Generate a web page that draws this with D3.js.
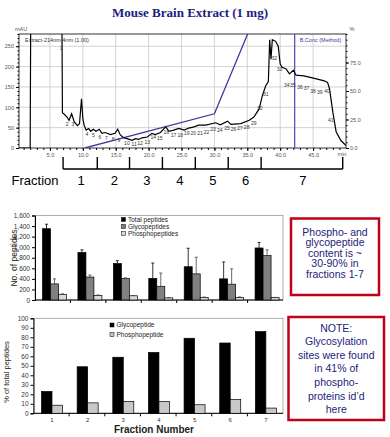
<!DOCTYPE html>
<html>
<head>
<meta charset="utf-8">
<script src="https://cdn.jsdelivr.net/npm/d3@7"></script>
<style>
body{margin:0;background:#fff}
svg{display:block;font-family:Arial,"Liberation Sans",sans-serif}
</style>
</head>
<body>
<div id="fig"></div>
<script>
// chromatogram trace: time (min) and absorbance (mAU)
var traceT = [0.3,2.0,2.1,6.8,6.9, 7.1,7.6,7.9,8.3,8.7, 9.2,9.5,9.8,10.0,10.2, 10.5,10.9,11.2,11.6,12.0,
  12.5,12.9,13.4,14.2,14.9, 15.3,15.7,16.2,16.7,17.5, 18.0,18.5,19.0,19.8,20.5, 21.0,21.8,22.6,23.1,23.8,
  24.6,25.4,26.1,26.9,27.6, 28.7,30.2,30.9,32.0,32.5, 34.0,35.3,36.0,36.8,37.3, 37.8,38.2,38.4,38.6,38.8,
  39.3,39.7,40.0,40.3,40.9, 41.4,42.0,42.4,43.6,45.2, 46.7,47.2,47.5,48.0,48.5, 49.2,50.0];
var traceA = [0,0,400,400,86, 84,76,68,84,64, 55,60,121,73,56, 44,48,41,46,41,
  46,36,38,33,36, 46,32,25,23,19, 23,21,25,27,36, 33,38,52,41,44,
  48,44,49,52,56, 56,62,57,66,58, 60,68,76,96,129, 153,163,266,218,266,
  262,250,206,198,194, 182,191,179,177,171, 165,161,145,88,40, 19,6];
// gradient program (%B)
var gradT = [10.3, 30, 35.05];
var gradB = [0, 30, 100];
var bConcT = 42.2;
// peak numbers 1..41
var peakT = [6.7,7.6,8.5,10.6,11.6,12.6,13.6,14.6,15.5,16.7,17.8,18.7,19.8,20.7,21.7,22.7,23.8,24.8,25.8,26.8,
  27.8,28.8,29.8,30.8,31.9,32.9,33.9,34.9,36.0,36.9,37.8,39.1,39.9,41.0,41.9,43.0,44.0,45.0,46.0,47.1,47.7];
var peakA = [246,59,59,34,32,28,24,21,20,12,10,13,15,28,24,40,32,32,38,38,
  36,40,46,43,50,47,48,51,62,98,132,222,194,155,155,149,147,141,138,141,69];
var fracEdges = [7, 12.2, 17.1, 22.1, 27.1, 32.1, 37.1, 49.5];

var fractions = ["1","2","3","4","5","6","7"];
var countSeries = ["Total peptides","Glycopeptides","Phosphopeptides"];
var totalVals = [1350, 900, 690, 410, 630, 400, 985];
var totalErr  = [85, 50, 55, 290, 350, 320, 105];
var glycoVals = [305, 435, 405, 260, 495, 300, 840];
var glycoErr  = [95, 38, 15, 250, 315, 290, 110];
var phosVals  = [108, 88, 80, 40, 50, 50, 45];
var phosErr   = [8, 8, 5, 6, 6, 8, 5];

var pctSeries = ["Glycopeptide","Phosphopeptide"];
var glycoPct = [23, 49, 59, 64, 79, 74, 86];
var phosPct  = [8.5, 11, 12.5, 12.5, 9, 14.5, 5.5];

var navy = "#23237a";
var svg = d3.select("#fig").append("svg").attr("width",390).attr("height",437);
svg.append("rect").attr("width",390).attr("height",437).attr("fill","#fff");

// ---------- chromatogram ----------
svg.append("text").attr("x",190).attr("y",17).attr("text-anchor","middle")
  .style("font-family","'Liberation Serif','Times New Roman',serif").style("font-weight","bold")
  .style("font-size","13px").attr("fill","#1c1c80").text("Mouse Brain Extract (1 mg)");

var xT = d3.scaleLinear().domain([0.3,50]).range([19,346]);
var yT = d3.scaleLinear().domain([0,280]).range([148,34]);
var yPct = d3.scaleLinear().domain([0,100]).range([148,34]);

var chromo = svg.append("g");
chromo.append("clipPath").attr("id","clipT").append("rect")
  .attr("x",19).attr("y",34).attr("width",327).attr("height",114);

chromo.selectAll(".vg").data(d3.range(5,50,5)).enter().append("line")
  .attr("x1",d=>xT(d)).attr("x2",d=>xT(d)).attr("y1",34).attr("y2",148)
  .attr("stroke","#c8c8c8").attr("stroke-width",0.8);
chromo.selectAll(".hg").data(d3.range(50,280,50)).enter().append("line")
  .attr("x1",19).attr("x2",346).attr("y1",d=>yT(d)).attr("y2",d=>yT(d))
  .attr("stroke","#c8c8c8").attr("stroke-width",0.8);

var tickTxt = function(g){ g.select(".domain").remove();
  g.selectAll("text").style("font-size","5.5px").attr("fill","#555"); };

chromo.append("g").attr("transform","translate(0,148)")
  .call(d3.axisBottom(xT).tickValues(d3.range(1,50)).tickSize(2).tickFormat(""))
  .call(tickTxt);
chromo.append("g").attr("transform","translate(0,148)")
  .call(d3.axisBottom(xT).tickValues(d3.range(5,50,5)).tickSize(3).tickPadding(2).tickFormat(d3.format(".1f")))
  .call(tickTxt);
chromo.append("g").attr("transform","translate(19,0)")
  .call(d3.axisLeft(yT).tickValues(d3.range(0,281,10)).tickSize(1.5).tickFormat(""))
  .call(tickTxt);
chromo.append("g").attr("transform","translate(19,0)")
  .call(d3.axisLeft(yT).tickValues(d3.range(0,251,50)).tickSize(3).tickPadding(2))
  .call(tickTxt);
chromo.append("g").attr("transform","translate(346,0)")
  .call(d3.axisRight(yPct).tickValues(d3.range(0,101,5)).tickSize(1.5).tickFormat(""))
  .call(tickTxt);
chromo.append("g").attr("transform","translate(346,0)")
  .call(d3.axisRight(yPct).tickValues(d3.range(0,76,25)).tickSize(3).tickPadding(1).tickFormat(d3.format(".1f")))
  .call(tickTxt);

chromo.append("rect").attr("x",19).attr("y",34).attr("width",327).attr("height",114)
  .attr("fill","none").attr("stroke","#000").attr("stroke-width",0.8);

chromo.append("text").attr("x",21).attr("y",31).attr("text-anchor","middle")
  .style("font-size","5.5px").attr("fill","#555").text("mAU");
chromo.append("text").attr("x",352).attr("y",31).attr("text-anchor","middle")
  .style("font-size","5.5px").attr("fill","#555").text("%");
chromo.append("text").attr("x",342).attr("y",156).attr("text-anchor","middle")
  .style("font-size","5.5px").attr("fill","#555").text("min");
chromo.append("text").attr("x",25).attr("y",41.5)
  .style("font-size","5.5px").attr("fill","#333").text("Extract-214nm,4nm (1.00)");
chromo.append("text").attr("x",xT(bConcT)+5).attr("y",41.5)
  .style("font-size","5.5px").attr("fill","#3a3aa0").text("B.Conc (Method)");

// B conc line and gradient
chromo.append("line").attr("x1",xT(bConcT)).attr("x2",xT(bConcT)).attr("y1",34).attr("y2",148)
  .attr("stroke","#4848a8").attr("stroke-width",1.2);
chromo.append("path").datum(d3.range(gradT.length))
  .attr("clip-path","url(#clipT)")
  .attr("d",d3.line().x(i=>xT(gradT[i])).y(i=>yPct(gradB[i])))
  .attr("fill","none").attr("stroke","#3a3a98").attr("stroke-width",1.3);

// trace
chromo.append("path").datum(d3.range(traceT.length))
  .attr("clip-path","url(#clipT)")
  .attr("d",d3.line().x(i=>xT(traceT[i])).y(i=>yT(traceA[i])))
  .attr("fill","none").attr("stroke","#000").attr("stroke-width",1.2);

chromo.selectAll(".pk").data(peakT).enter().append("text")
  .attr("x",d=>xT(d)).attr("y",(d,i)=>yT(peakA[i])+2)
  .attr("text-anchor","middle").style("font-size","5px").attr("fill","#333")
  .text((d,i)=>i+1);

// fraction bracket
var brY = 169;
chromo.append("line").attr("x1",xT(fracEdges[0])).attr("x2",xT(fracEdges[fracEdges.length-1]))
  .attr("y1",brY).attr("y2",brY).attr("stroke","#000").attr("stroke-width",1.4);
chromo.selectAll(".ft").data(fracEdges).enter().append("line")
  .attr("x1",d=>xT(d)).attr("x2",d=>xT(d)).attr("y1",brY-12).attr("y2",brY)
  .attr("stroke","#000").attr("stroke-width",1.4);
chromo.selectAll(".fl").data(fractions).enter().append("text")
  .attr("x",(d,i)=>xT((fracEdges[i]+fracEdges[i+1])/2)+1).attr("y",185)
  .attr("text-anchor","middle").style("font-size","13px").text(d=>d);
chromo.append("text").attr("x",35).attr("y",185).attr("text-anchor","middle")
  .style("font-size","13px").text("Fraction");

// ---------- peptide counts ----------
var xM = d3.scaleBand().domain(fractions).range([35,283]);
var xMs = d3.scaleBand().domain(countSeries).range([7.5,31.5]);
var yM = d3.scaleLinear().domain([0,1600]).range([300,215.5]);
var countFill = ["#000","#808080","#d8d8d8"];
var countVals = [totalVals, glycoVals, phosVals];
var countErr = [totalErr, glycoErr, phosErr];

var mid = svg.append("g");
mid.append("rect").attr("x",35).attr("y",215.5).attr("width",248).attr("height",84.5)
  .attr("fill","none").attr("stroke","#999").attr("stroke-width",0.8);
mid.append("g").attr("transform","translate(35,0)")
  .call(d3.axisLeft(yM).tickValues(d3.range(0,1601,200)).tickSize(3).tickPadding(2).tickFormat(d3.format(",")))
  .call(g=>g.selectAll("text").style("font-size","6.5px").attr("fill","#333"));
mid.append("line").attr("x1",35).attr("x2",283).attr("y1",300).attr("y2",300).attr("stroke","#000");
mid.selectAll(".xd").data(fractions.slice(1)).enter().append("line")
  .attr("x1",d=>xM(d)).attr("x2",d=>xM(d)).attr("y1",300).attr("y2",303).attr("stroke","#000");

countSeries.forEach(function(s,k){
  var g = mid.append("g");
  g.selectAll("rect").data(fractions).enter().append("rect")
    .attr("x",d=>xM(d)+xMs(s)).attr("width",xMs.bandwidth())
    .attr("y",(d,i)=>yM(countVals[k][i])).attr("height",(d,i)=>yM(0)-yM(countVals[k][i]))
    .attr("fill",countFill[k]).attr("stroke","#000").attr("stroke-width",0.7);
  g.selectAll(".eb").data(fractions).enter().append("path")
    .attr("d",function(d,i){
      var cx = xM(d)+xMs(s)+xMs.bandwidth()/2, y0 = yM(countVals[k][i]), y1 = yM(countVals[k][i]+countErr[k][i]);
      return "M"+cx+","+y0+"V"+y1+"M"+(cx-1.5)+","+y1+"H"+(cx+1.5);
    })
    .attr("stroke",k==0?"#000":"#444").attr("stroke-width",0.8).attr("fill","none");
});

var legM = mid.selectAll(".lm").data(countSeries).enter().append("g")
  .attr("transform",(d,i)=>"translate(121.5,"+[219.5,226.5,233.5][i]+")");
legM.append("rect").attr("x",0).attr("y",-2).attr("width",4).attr("height",4)
  .attr("fill",(d,i)=>countFill[i]).attr("stroke","#000").attr("stroke-width",0.5);
legM.append("text").attr("x",6.5).attr("y",2.2).style("font-size","6.5px").attr("fill","#222").text(d=>d);

mid.append("text").attr("transform","translate(17,258) rotate(-90)").attr("text-anchor","middle")
  .style("font-size","8.5px").attr("fill","#222").text("No. of peptides");

// ---------- percentages ----------
var xB = d3.scaleBand().domain(fractions).range([33.5,283]);
var xBs = d3.scaleBand().domain(pctSeries).range([8,29]);
var yB = d3.scaleLinear().domain([0,100]).range([413.3,318.3]);
var pctFill = ["#000","#c8c8c8"];
var pctVals = [glycoPct, phosPct];

var bot = svg.append("g");
bot.append("rect").attr("x",33.5).attr("y",318.3).attr("width",249.5).attr("height",95)
  .attr("fill","none").attr("stroke","#999").attr("stroke-width",0.8);
bot.append("g").attr("transform","translate(33.5,0)")
  .call(d3.axisLeft(yB).tickValues(d3.range(0,101,10)).tickSize(3).tickPadding(2))
  .call(g=>g.selectAll("text").style("font-size","6.5px").attr("fill","#333"));
bot.append("line").attr("x1",33.5).attr("x2",283).attr("y1",413.3).attr("y2",413.3).attr("stroke","#000");
bot.selectAll(".xd").data(fractions.slice(1)).enter().append("line")
  .attr("x1",d=>xB(d)).attr("x2",d=>xB(d)).attr("y1",413.3).attr("y2",416.3).attr("stroke","#000");
bot.selectAll(".xl").data(fractions).enter().append("text")
  .attr("x",d=>xB(d)+(8+29)/2).attr("y",422).attr("text-anchor","middle")
  .style("font-size","6px").attr("fill","#333").text(d=>d);

pctSeries.forEach(function(s,k){
  bot.append("g").selectAll("rect").data(fractions).enter().append("rect")
    .attr("x",d=>xB(d)+xBs(s)).attr("width",xBs.bandwidth())
    .attr("y",(d,i)=>yB(pctVals[k][i])).attr("height",(d,i)=>yB(0)-yB(pctVals[k][i]))
    .attr("fill",pctFill[k]).attr("stroke","#000").attr("stroke-width",0.7);
});

var legB = bot.selectAll(".lb").data(pctSeries).enter().append("g")
  .attr("transform",(d,i)=>"translate(110,"+[325,334.7][i]+")");
legB.append("rect").attr("x",0).attr("y",-2).attr("width",4).attr("height",4)
  .attr("fill",(d,i)=>pctFill[i]).attr("stroke","#000").attr("stroke-width",0.5);
legB.append("text").attr("x",6.5).attr("y",2.2).style("font-size","6.5px").attr("fill","#222").text(d=>d);

bot.append("text").attr("transform","translate(9,372) rotate(-90)").attr("text-anchor","middle")
  .style("font-size","7.5px").attr("fill","#222").text("% of total peptides");
bot.append("text").attr("x",154).attr("y",433).attr("text-anchor","middle")
  .style("font-size","10px").style("font-weight","bold").attr("fill","#222").text("Fraction Number");

// ---------- note boxes ----------
function note(x,y,w,h,lines,y0,dy){
  var g = svg.append("g");
  g.append("rect").attr("x",x).attr("y",y).attr("width",w).attr("height",h)
    .attr("fill","#fff").attr("stroke","#c00018").attr("stroke-width",2.5);
  g.selectAll("text").data(lines).enter().append("text")
    .attr("x",x+w/2).attr("y",(d,i)=>y0+i*dy).attr("text-anchor","middle")
    .style("font-size","10.5px").attr("fill",navy).text(d=>d);
}
note(291,218.5,88,76.5,["Phospho- and","glycopeptide","content is ~","30-90% in","fractions 1-7"],235.5,10.6);
note(288.5,317,95.5,103,["NOTE:","Glycosylation","sites were found","in 41% of","phospho-","proteins id\u2019d","here"],331.5,13.6);
</script>
</body>
</html>
